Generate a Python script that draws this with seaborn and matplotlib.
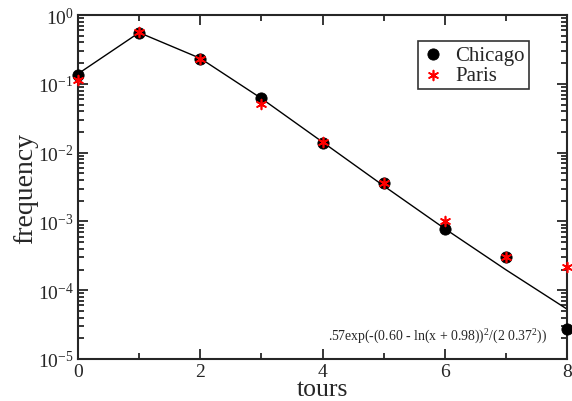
import numpy as np
import pandas as pd
import matplotlib
matplotlib.use("Agg")
import matplotlib.pyplot as plt
import seaborn as sns
from matplotlib.ticker import LogLocator, LogFormatterSciNotation, MultipleLocator

tours = [0, 1, 2, 3, 4, 5, 6, 7, 8]
chicago = [0.134, 0.55, 0.23, 0.062, 0.0138, 0.0036, 0.00078, 0.00030, 0.000027]
paris = [0.113, 0.566, 0.23, 0.051, 0.0142, 0.0036, 0.00102, 0.00030, 0.00022]
# fit curve read at each tour
fit = [0.140, 0.556, 0.235, 0.0614, 0.01425, 0.00329, 0.000784, 0.000198, 0.000053]
fit_label = r".57exp(-(0.60 - ln(x + 0.98))$^{\mathdefault{2}}$/(2 0.37$^{\mathdefault{2}}$))"

sns.set_style("ticks")
plt.rcParams["font.family"] = ["Liberation Serif", "DejaVu Serif"]
plt.rcParams["mathtext.fontset"] = "custom"
plt.rcParams["mathtext.rm"] = "Liberation Serif"

df = pd.DataFrame({"tours": tours, "Chicago": chicago, "Paris": paris, "fit": fit})

fig = plt.figure(figsize=(5.72, 4.02), dpi=100)
ax = fig.add_axes([0.1364, 0.1045, 0.855, 0.8555])

sns.lineplot(data=df, x="tours", y="fit", color="black", linewidth=1.0, ax=ax)
sns.scatterplot(data=df, x="tours", y="Chicago", color="black", s=65, edgecolor="black",
                marker="o", label="Chicago", ax=ax, clip_on=False, zorder=3)
sns.scatterplot(data=df, x="tours", y="Paris", color="red", s=50, edgecolor="red",
                linewidth=1.2, marker=(6, 2, 0), label="Paris", ax=ax, clip_on=False, zorder=4)

ax.set_yscale("log")
ax.set_xlim(0, 8)
ax.set_ylim(1e-5, 1)
ax.xaxis.set_major_locator(MultipleLocator(2))
ax.xaxis.set_minor_locator(MultipleLocator(1))
ax.yaxis.set_major_locator(LogLocator(base=10, numticks=10))
ax.yaxis.set_major_formatter(LogFormatterSciNotation())
ax.yaxis.set_minor_locator(LogLocator(base=10, subs=np.arange(2, 10), numticks=10))
ax.tick_params(which="both", direction="in", top=True, right=True, width=1.3, labelsize=14)
ax.tick_params(which="major", length=7, pad=3)
ax.tick_params(which="minor", length=4)
for sp in ax.spines.values():
    sp.set_linewidth(1.5)

ax.set_xlabel("tours", fontsize=18.5, labelpad=-1.5)
ax.set_ylabel("frequency", fontsize=20, labelpad=0)

ax.text(0.959, 0.07, fit_label, transform=ax.transAxes, ha="right", va="center", fontsize=9.9)

leg = ax.legend(loc="upper right", bbox_to_anchor=(0.922, 0.925), fontsize=15, frameon=True,
                fancybox=False, edgecolor="black", handletextpad=0.5, borderpad=0.2,
                labelspacing=0.05, handlelength=1.1, borderaxespad=0)
leg.get_frame().set_linewidth(1.2)

fig.savefig("out.png", dpi=100)
